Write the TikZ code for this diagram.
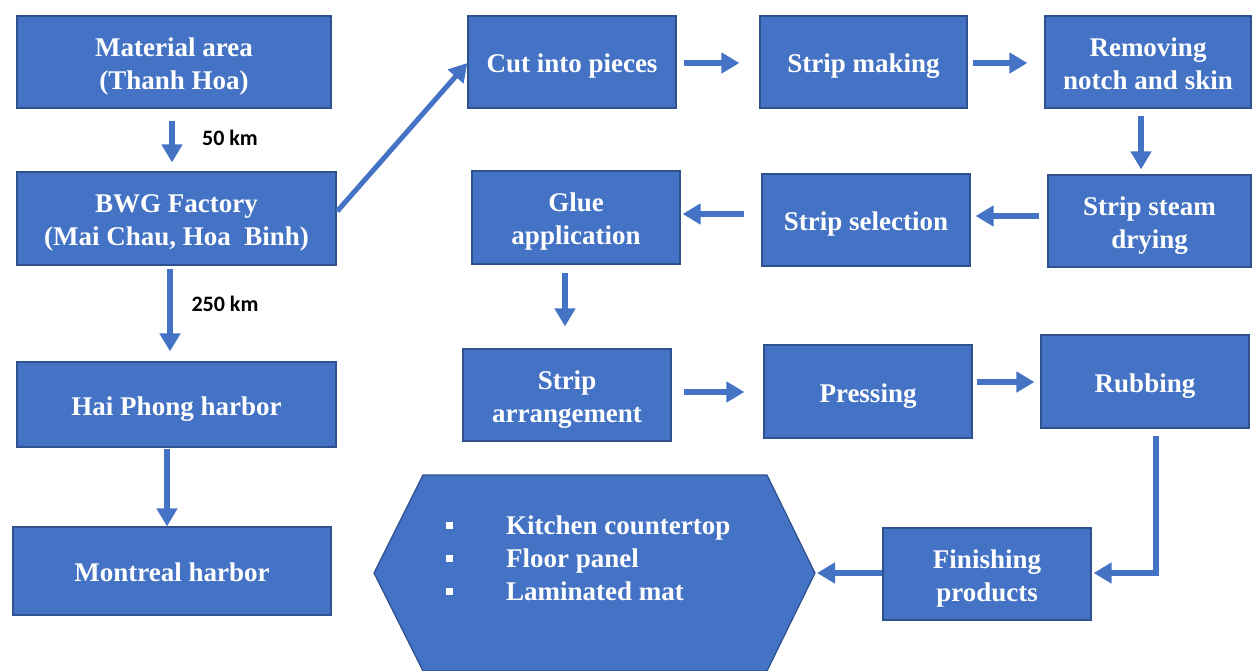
\documentclass[tikz,border=0pt]{standalone}
\usepackage{fontspec}
\setmainfont{Liberation Serif}
\newfontfamily\lblfont{Carlito}
\usetikzlibrary{arrows.meta}
\definecolor{boxfill}{HTML}{4472C4}
\definecolor{boxline}{HTML}{2F528F}
\newcommand\bx[1]{\raisebox{0pt}[\dimexpr\height+8pt\relax][\depth]{\begin{tabular}{@{}c@{}}#1\end{tabular}}}
\begin{document}
\begin{tikzpicture}[x=1pt,y=-1pt,
 box/.style={draw=boxline, line width=1.2pt, fill=boxfill, text=white, font=\bfseries\fontsize{27}{33}\selectfont, align=center, inner sep=0pt},
 arr/.style={draw=boxfill, line width=6pt, -{Triangle[width=20pt,length=18pt]}},
 km/.style={font=\lblfont\bfseries\fontsize{22}{24}\selectfont, text=black, inner sep=0pt}]
\useasboundingbox (0,0) rectangle (1252,671);
% left column
\node[box, minimum width=314pt, minimum height=92pt] (mat) at (174,62) {\bx{Material area\\(Thanh Hoa)}};
\node[box, minimum width=319pt, minimum height=93pt] (bwg) at (176.5,218.5) {\bx{BWG Factory\\(Mai Chau, Hoa\ \ Binh)}};
\node[box, minimum width=319pt, minimum height=85pt] (hai) at (176.5,404.5) {\bx{Hai Phong harbor}};
\node[box, minimum width=318pt, minimum height=88pt] (mon) at (172,571) {\bx{Montreal harbor}};
% process boxes
\node[box, minimum width=208pt, minimum height=92pt] (cut) at (572,62) {\bx{Cut into pieces}};
\node[box, minimum width=207pt, minimum height=92pt] (sm) at (863.5,62) {\bx{Strip making}};
\node[box, minimum width=206pt, minimum height=92pt] (rem) at (1148,62) {\bx{Removing\\notch and skin}};
\node[box, minimum width=203pt, minimum height=92pt] (std) at (1149.5,221) {\bx{Strip steam\\drying}};
\node[box, minimum width=208pt, minimum height=92pt] (sel) at (866,220) {\bx{Strip selection}};
\node[box, minimum width=208pt, minimum height=93pt] (glue) at (576,217.5) {\bx{Glue\\application}};
\node[box, minimum width=208pt, minimum height=92pt] (arrg) at (567,395) {\bx{Strip\\arrangement}};
\node[box, minimum width=208pt, minimum height=93pt] (pre) at (868,391.5) {\bx{Pressing}};
\node[box, minimum width=208pt, minimum height=93pt] (rub) at (1145,381.5) {\bx{Rubbing}};
\node[box, minimum width=208pt, minimum height=92pt] (fin) at (987,574) {\bx{Finishing\\products}};
% hexagon
\draw[draw=boxline, line width=1.2pt, fill=boxfill] (374,573) -- (423,475) -- (767,475) -- (815,573) -- (767,671) -- (423,671) -- cycle;
\coordinate (hexR) at (815,573);
\node[anchor=west, text=white, font=\bfseries\fontsize{27}{33}\selectfont, inner sep=0pt] (prod) at (446,561)
 {\begin{tabular}{@{}l@{\hspace{53pt}}l@{}}
 \raisebox{6pt}{\rule{7pt}{7pt}} & Kitchen countertop\\
 \raisebox{6pt}{\rule{7pt}{7pt}} & Floor panel\\
 \raisebox{6pt}{\rule{7pt}{7pt}} & Laminated mat
 \end{tabular}};
% connectors
\draw[arr, shorten <=12pt, shorten >=9pt] ([xshift=-2pt]mat.south) -- ([xshift=-2pt]mat.south |- bwg.north);
\node[km] (l50) at (230,138) {50 km};
\draw[arr, shorten <=3pt, shorten >=10pt] ([xshift=-6.5pt]bwg.south) -- ([xshift=-6.5pt]bwg.south |- hai.north);
\node[km] (l250) at (225,304) {250 km};
\draw[arr, shorten <=1pt] ([xshift=-9.5pt]hai.south) -- ([xshift=-9.5pt]hai.south |- mon.north);
\draw[arr, line width=5pt, shorten <=1pt] (bwg.east |- 0,212) -- (cut.west |- 0,63);
\draw[arr, shorten <=7pt, shorten >=20pt] (cut.east |- 0,63) -- (sm.west |- 0,63);
\draw[arr, shorten <=5pt, shorten >=17pt] (sm.east |- 0,63) -- (rem.west |- 0,63);
\draw[arr, shorten <=7pt, shorten >=5pt] (rem.south -| 1141,0) -- (std.north -| 1141,0);
\draw[arr, shorten <=8pt, shorten >=5pt] (std.west |- 0,216) -- (sel.east |- 0,216);
\draw[arr, shorten <=17pt, shorten >=2pt] (sel.west |- 0,214) -- (glue.east |- 0,214);
\draw[arr, shorten <=8pt, shorten >=22pt] (glue.south -| 565,0) -- (arrg.north -| 565,0);
\draw[arr, shorten <=12pt, shorten >=19pt] (arrg.east |- 0,392) -- (pre.west |- 0,392);
\draw[arr, shorten <=4pt, shorten >=6pt] (pre.east |- 0,382) -- (rub.west |- 0,382);
\draw[arr, line join=miter, shorten <=7pt, shorten >=2pt] (rub.south -| 1156,0) -- (1156,573) -- (fin.east |- 0,573);
\draw[arr, shorten >=2pt] (fin.west |- 0,573) -- (hexR);
\end{tikzpicture}
\end{document}
